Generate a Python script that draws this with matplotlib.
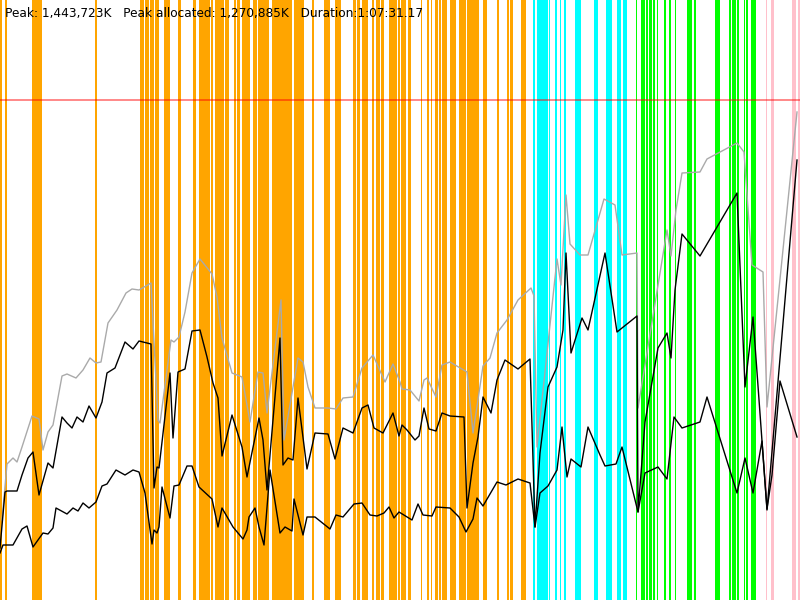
import matplotlib
matplotlib.use("Agg")
import matplotlib.pyplot as plt

# Header text
title_text = "Peak: 1,443,723K   Peak allocated: 1,270,885K   Duration:1:07:31.17"

# Event spans (time units on the horizontal axis)
orange_spans = [(0, 2), (5.5, 6.5), (32, 42), (95.5, 96.5),
                (140, 144), (145.5, 149), (150, 154), (155, 157), (157.5, 159), (164, 170),
                (178, 181), (193, 196), (199, 210), (211, 213), (215, 222), (222.5, 224),
                (225, 227), (227.5, 229), (234, 236), (237, 240), (242, 250), (253, 257),
                (258, 265), (265, 269), (272, 278), (278.5, 288), (288.5, 292), (294, 302),
                (302.5, 304), (312, 314), (324, 330), (335, 341), (353, 356), (357, 360),
                (362, 368), (372, 374), (376, 380), (381, 384), (389, 397), (398, 400),
                (401, 406), (408, 411), (421, 422), (427, 429), (431, 432), (435, 438),
                (439, 441), (442, 447), (450, 456), (459, 466), (467, 477), (477.5, 479),
                (483, 487), (497, 499), (507, 509), (510, 513), (521, 526)]
cyan_spans = [(533, 535), (537, 548), (549, 550), (555, 557), (560, 561), (564, 566),
              (575, 581), (594, 598), (606, 608), (608.5, 612), (617, 621), (623, 627)]
green_spans = [(636, 637), (641, 645), (646, 648), (649, 652), (653, 655), (657, 658),
               (664, 666), (669, 671), (675, 676), (687, 692), (694, 696), (715, 720),
               (729, 731), (732, 736), (737, 739), (744, 745), (746, 748), (751, 756)]
pink_spans = [(766, 767), (771, 774), (792, 796), (798, 800)]

# Limit line level (depth from top)
limit_level = 100

# Gray series
gray_x = [2, 7, 13, 17, 22, 32, 39, 43, 48, 53, 62, 67, 76, 83, 90, 96, 101, 108, 117, 126,
          132, 139, 151, 158, 160, 171, 174, 179, 185, 192, 200, 212, 217, 222, 232, 242, 250,
          258, 263, 267, 281, 284, 292, 298, 303, 308, 315, 328, 336, 343, 353, 362, 373, 385,
          393, 400, 402, 410, 419, 424, 427, 436, 442, 450, 467, 473, 483, 490, 497, 507, 518,
          531, 534, 537, 557, 561, 566, 570, 580, 588, 604, 615, 622, 637, 638, 667, 671, 676,
          682, 700, 707, 737, 744, 752, 763, 767, 797]
gray_y = [520, 464, 458, 462, 447, 416, 419, 450, 432, 425, 376, 374, 378, 370, 358, 363, 362,
          323, 310, 293, 289, 290, 283, 420, 423, 340, 342, 337, 312, 273, 259, 274, 297, 338,
          373, 377, 422, 372, 373, 413, 300, 440, 393, 358, 362, 387, 408, 408, 409, 398, 397,
          368, 355, 382, 364, 382, 389, 390, 401, 380, 378, 397, 365, 362, 372, 433, 366, 358,
          333, 320, 300, 288, 296, 447, 259, 285, 195, 244, 255, 255, 199, 205, 255, 253, 408,
          230, 256, 210, 173, 172, 159, 143, 152, 265, 272, 407, 112]

# Middle black series
mid_x = [0, 5, 7, 17, 22, 28, 33, 39, 48, 53, 62, 67, 72, 77, 83, 89, 96, 102, 107, 115, 125,
         133, 139, 151, 154, 157, 159, 170, 173, 178, 185, 192, 200, 207, 213, 218, 222, 232,
         242, 247, 259, 263, 267, 280, 283, 288, 293, 298, 307, 315, 328, 335, 343, 353, 362,
         368, 374, 383, 393, 399, 402, 407, 415, 419, 424, 429, 436, 442, 450, 464, 467, 473,
         478, 483, 491, 497, 505, 518, 530, 535, 540, 548, 557, 563, 566, 571, 582, 588, 605,
         617, 637, 638, 645, 658, 667, 671, 675, 682, 700, 737, 745, 753, 767, 797]
mid_y = [548, 492, 491, 491, 475, 458, 452, 495, 463, 468, 417, 423, 428, 417, 422, 406, 418,
         402, 373, 368, 342, 349, 341, 344, 488, 467, 468, 373, 438, 372, 369, 331, 330, 357,
         383, 398, 456, 415, 447, 477, 418, 440, 490, 338, 465, 458, 460, 398, 469, 433, 434,
         459, 428, 433, 408, 405, 428, 433, 413, 436, 425, 430, 440, 436, 408, 429, 431, 413,
         416, 417, 508, 463, 437, 397, 413, 380, 360, 369, 359, 527, 453, 387, 367, 330, 253,
         353, 318, 330, 253, 332, 316, 512, 422, 348, 333, 358, 290, 234, 256, 193, 387, 317,
         510, 160]

# Lower black series
low_x = [0, 3, 13, 22, 27, 33, 43, 48, 53, 56, 67, 73, 78, 83, 89, 96, 102, 107, 116, 125, 133,
         139, 145, 152, 154, 157, 159, 162, 170, 174, 179, 187, 192, 199, 212, 218, 222, 233,
         243, 247, 249, 255, 259, 264, 270, 280, 285, 292, 294, 303, 307, 315, 330, 336, 343,
         354, 362, 370, 377, 384, 389, 394, 399, 412, 418, 423, 432, 436, 450, 459, 466, 473,
         477, 483, 497, 506, 518, 530, 535, 540, 548, 557, 562, 567, 571, 581, 588, 600, 605,
         616, 622, 638, 645, 658, 667, 674, 682, 700, 707, 737, 745, 753, 762, 767, 772, 780,
         797]
low_y = [553, 545, 545, 529, 526, 547, 533, 534, 528, 508, 514, 508, 511, 503, 508, 502, 486,
         484, 470, 475, 470, 472, 493, 544, 530, 533, 527, 487, 518, 486, 485, 466, 466, 487,
         499, 527, 508, 527, 539, 530, 517, 508, 527, 545, 470, 533, 527, 531, 499, 535, 517,
         517, 529, 515, 517, 504, 503, 515, 516, 513, 507, 518, 512, 520, 504, 515, 516, 507,
         508, 517, 532, 519, 498, 506, 482, 485, 479, 483, 527, 493, 486, 470, 427, 477, 459,
         467, 427, 455, 466, 464, 447, 512, 473, 467, 479, 417, 428, 422, 397, 493, 458, 493,
         441, 509, 475, 381, 437]

fig = plt.figure(figsize=(8, 6), dpi=100)
ax = fig.add_axes([0, 0, 1, 1])
ax.set_xlim(0, 800)
ax.set_ylim(600, 0)
ax.axis("off")

pad = 0.4
for spans, col in [(orange_spans, "#ffa500"), (cyan_spans, "#00ffff"),
                   (green_spans, "#00ff00"), (pink_spans, "#ffc0cb")]:
    for a, b in spans:
        ax.axvspan(a - pad, b + pad, color=col, lw=0, zorder=1)

ax.axhline(limit_level, color="#ff0000", alpha=0.5, lw=1.3, zorder=2)

ax.plot(gray_x, gray_y, color="#aaaaaa", lw=1.0, zorder=3)
ax.plot(mid_x, mid_y, color="black", lw=1.0, zorder=4)
ax.plot(low_x, low_y, color="black", lw=1.0, zorder=4)

ax.text(5, 13, title_text, fontsize=8.7, color="black", va="center", ha="left",
        family="DejaVu Sans", zorder=5)

fig.savefig("out.png", dpi=100)
